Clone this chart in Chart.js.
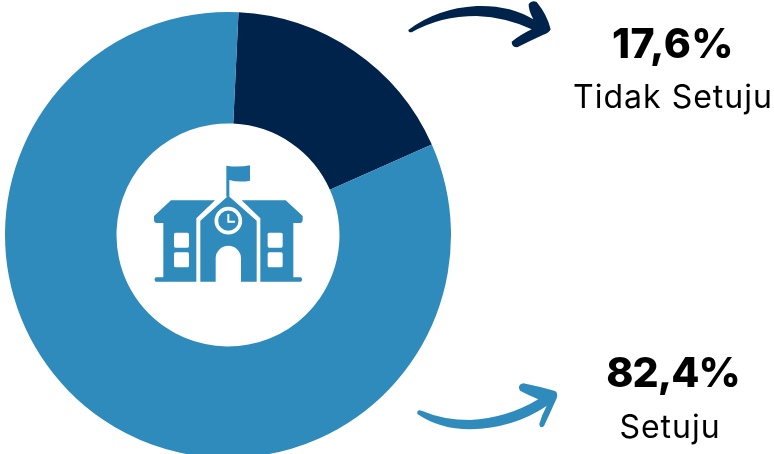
<!DOCTYPE html>
<html>
<head>
<meta charset="utf-8">
<title>Setuju / Tidak Setuju</title>
<script src="https://cdn.jsdelivr.net/npm/chart.js@4"></script>
<style>
  html, body { margin: 0; background: #fff; overflow: hidden; width: 774px; height: 454px; }
  canvas { display: block; }
</style>
</head>
<body>
<canvas id="chart" width="774" height="470"></canvas>
<script>
const categories = ["Tidak Setuju", "Setuju"];
const values = [17.6, 82.4];
const sliceColors = ["#00234b", "#2e8bbc"];

// text spots for each category, same order as above
const valueCenterX = [673, 673];
const nameCenterX = [673, 670];
const valueBaseline = [58, 387];
const nameBaseline = [108, 438];
const valueSpacing = ["0.5px", "-1px"];

const percentText = (v) => v.toFixed(1).replace(".", ",") + "%";

function drawSchool(ctx, cx, cy) {
  ctx.save();
  // traced at 3x, the hole centre sits at (324, 315) in the tracing
  ctx.translate(cx, cy);
  ctx.scale(1 / 3, 1 / 3);
  ctx.translate(-324, -315);
  ctx.fillStyle = sliceColors[1];

  ctx.fill(new Path2D("M319 107 Q355 113 390 106 L390 152 Q358 158 328 150 L328 200 L319 200 Z"));
  ctx.fill(new Path2D("M325 197 L410 272 L410 455 L363 455 L363 385 A38 38 0 0 0 287 385 L287 455 L241 455 L241 272 Z"));

  const leftWing = new Path2D("M153 211 L285 211 L229 265 L229 455 L107 455 Q100 449 107 442 L130 442 L130 279 L108 279 Q102 277 102 270 L102 258 Z");
  ctx.fill(leftWing);
  ctx.save();
  ctx.translate(650, 0);
  ctx.scale(-1, 1);
  ctx.fill(leftWing);
  ctx.restore();

  // windows
  ctx.fillStyle = "#fff";
  [162, 443].forEach((x) => {
    [308, 367].forEach((y) => {
      ctx.beginPath();
      ctx.roundRect(x, y, 45, 45, 5);
      ctx.fill();
    });
  });

  // clock
  ctx.strokeStyle = "#fff";
  ctx.lineWidth = 11;
  ctx.beginPath();
  ctx.arc(325, 272, 36, 0, Math.PI * 2);
  ctx.stroke();
  ctx.lineWidth = 6;
  ctx.beginPath();
  ctx.moveTo(325, 252);
  ctx.lineTo(325, 275);
  ctx.lineTo(345, 275);
  ctx.stroke();
  ctx.restore();
}

function drawArrows(ctx) {
  ctx.save();
  ctx.scale(1 / 3, 1 / 3);
  ctx.fillStyle = sliceColors[0];
  ctx.save();
  ctx.translate(1200, 0);
  ctx.fill(new Path2D("M25 90 Q110 25 230 18 Q330 15 400 58 Q385 30 386 12 Q395 0 410 6 Q442 45 452 88 Q447 100 430 104 Q390 122 352 142 Q335 142 335 125 Q360 105 395 88 Q320 52 230 48 Q120 48 35 97 Q25 98 25 90 Z"));
  ctx.restore();
  ctx.fillStyle = sliceColors[1];
  ctx.translate(1200, 1020);
  ctx.fill(new Path2D("M52 215 Q55 208 65 212 Q130 240 210 240 Q320 235 415 178 Q385 165 360 152 Q350 135 370 130 Q420 140 465 153 Q475 158 470 175 Q450 220 432 258 Q420 268 418 252 Q425 225 440 198 Q340 265 210 268 Q120 268 52 222 Z"));
  ctx.restore();
}

function drawLabels(ctx) {
  ctx.save();
  ctx.textAlign = "center";
  ctx.textBaseline = "alphabetic";
  ctx.fillStyle = "#000";
  categories.forEach((name, i) => {
    ctx.font = "800 41px Inter";
    ctx.letterSpacing = valueSpacing[i];
    ctx.fillText(percentText(values[i]), valueCenterX[i], valueBaseline[i]);
    ctx.font = "400 32px Inter";
    ctx.letterSpacing = "1px";
    ctx.fillText(name, nameCenterX[i], nameBaseline[i]);
  });
  ctx.restore();
}

const decorations = {
  id: "decorations",
  afterDraw(chart) {
    const arc = chart.getDatasetMeta(0).data[0];
    drawSchool(chart.ctx, arc.x, arc.y);
    drawArrows(chart.ctx);
    drawLabels(chart.ctx);
  },
};

new Chart(document.getElementById("chart"), {
  type: "doughnut",
  data: {
    labels: categories,
    datasets: [{ data: values, backgroundColor: sliceColors, borderWidth: 0 }],
  },
  options: {
    responsive: false,
    animation: false,
    rotation: 2.7,
    cutout: "50%",
    layout: { padding: { left: 5, right: 323, top: 12, bottom: 12 } },
    plugins: { legend: { display: false }, tooltip: { enabled: false } },
  },
  plugins: [decorations],
});
</script>
</body>
</html>
